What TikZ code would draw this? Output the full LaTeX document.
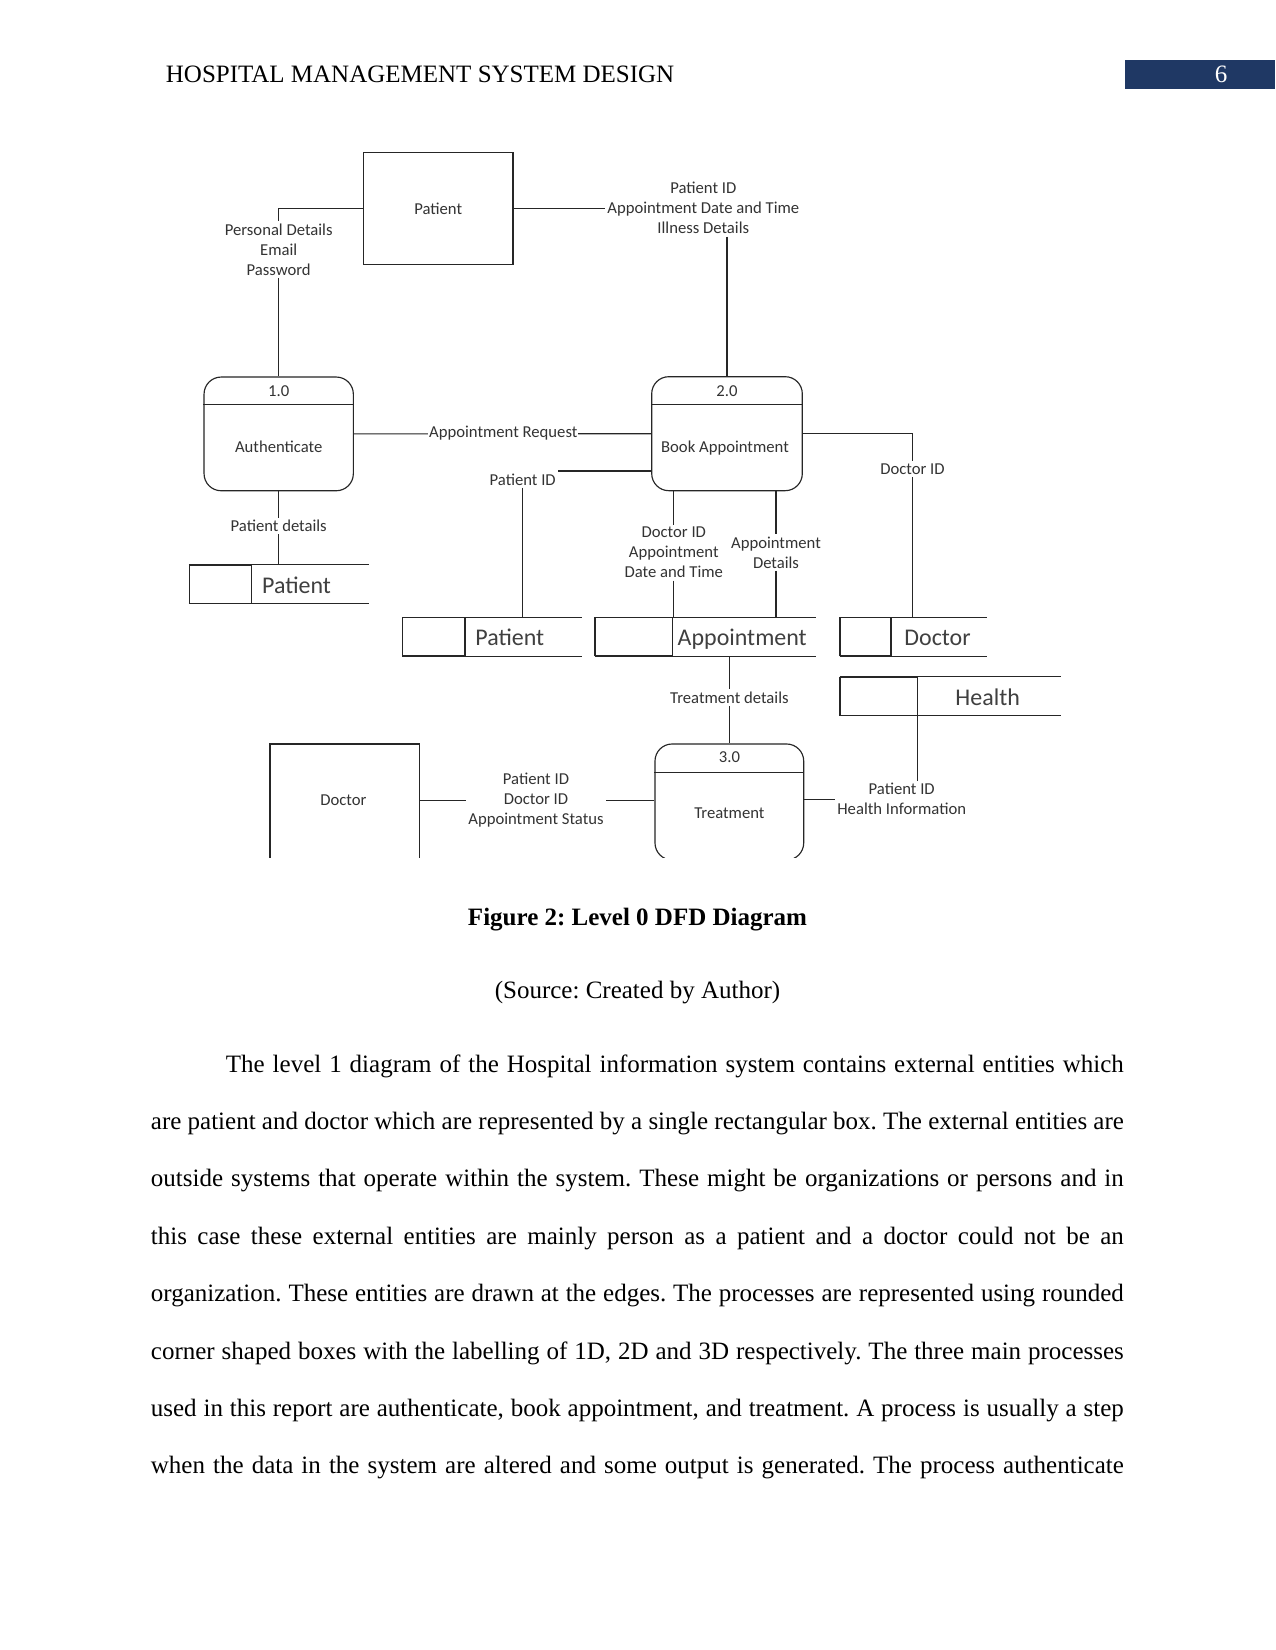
\documentclass[tikz,border=0pt]{standalone}
\usepackage{fontspec}
\setmainfont{Liberation Serif}
\newfontfamily\dfdfont{Carlito}
\usetikzlibrary{calc}
\newcommand{\pxu}{0.48pt}
\definecolor{navy}{RGB}{31,56,100}
\frenchspacing
\begin{document}
\frenchspacing
\begin{tikzpicture}[x=0.48pt,y=-0.48pt,
  ln/.style={draw=black!85, line width=0.55pt},
  entity/.style={draw=black!85, line width=0.55pt, rectangle, inner sep=0pt,
    font=\dfdfont\fontsize{8}{9.6}\selectfont, text=black!80},
  proc/.style={draw=black!85, line width=0.55pt, rectangle, rounded corners=8.2pt, inner sep=0pt},
  ptxt/.style={font=\dfdfont\fontsize{8}{9.6}\selectfont, text=black!80, inner sep=0pt},
  lbl/.style={font=\dfdfont\fontsize{8}{9.6}\selectfont, text=black!80, align=center, inner sep=1pt, fill=white},
  stxt/.style={font=\dfdfont\fontsize{11.5}{13}\selectfont, text=black!75, inner sep=0pt, anchor=west},
  store/.style={rectangle, inner sep=0pt, draw=none},
  sid/.style={draw=black!85, line width=0.55pt, rectangle, inner sep=0pt},
  bodyline/.style={anchor=base west, inner sep=0pt, font=\fontsize{12}{14}\selectfont},
  headtxt/.style={anchor=base, inner sep=0pt, font=\fontsize{12}{14}\selectfont},
]
\fill[white] (0,0) rectangle (1275,1650);
\useasboundingbox (0,0) rectangle (1275,1650);

% ---------- header ----------
\node[bodyline] (head) at (165.5,83) {HOSPITAL MANAGEMENT SYSTEM DESIGN};
\node[fill=navy, minimum width=150*\pxu, minimum height=29*\pxu, inner sep=0pt] (pgbox) at (1200,74.5) {};
\node[headtxt, text=white] (pgnum) at (1221,83) {6};

% ---------- diagram ----------
\begin{scope}
\clip (0,0) rectangle (1275,857);

% external entities
\node[entity, minimum width=149.7*\pxu, minimum height=111.6*\pxu] (pent) at (438.2,208.5) {Patient};
\node[entity, minimum width=149.3*\pxu, minimum height=130*\pxu] (dent) at (344.6,809) {};
\node[ptxt] (dentt) at (343.3,800) {Doctor};

% processes
\node[proc, minimum width=149.3*\pxu, minimum height=113.7*\pxu] (p1) at (278.7,433.9) {};
\node[proc, minimum width=150.6*\pxu, minimum height=114*\pxu] (p2) at (727,433.7) {};
\node[proc, minimum width=148.7*\pxu, minimum height=116*\pxu] (p3) at (729.35,802) {};
\draw[ln] ($(p1.north west)+(0,28.3)$) -- ($(p1.north east)+(0,28.3)$);
\draw[ln] ($(p2.north west)+(0,28.3)$) -- ($(p2.north east)+(0,28.3)$);
\draw[ln] ($(p3.north west)+(0,29.3)$) -- ($(p3.north east)+(0,29.3)$);
\node[ptxt] (p1num) at (278.7,390.7) {1.0};
\node[ptxt] (p1name) at (278.7,446.7) {Authenticate};
\node[ptxt] (p2num) at (727,390.7) {2.0};
\node[ptxt] (p2name) at (725,448) {Book Appointment};
\node[ptxt] (p3num) at (729.4,757.3) {3.0};
\node[ptxt] (p3name) at (729.4,813.3) {Treatment};

% data stores
\node[store, minimum width=179*\pxu, minimum height=38.3*\pxu] (s1) at (278.8,584.15) {};
\node[sid, minimum width=62*\pxu, minimum height=38.3*\pxu] (s1id) at (220.3,584.15) {};
\node[store, minimum width=179*\pxu, minimum height=38*\pxu] (s2) at (492.2,636.7) {};
\node[sid, minimum width=62.3*\pxu, minimum height=38*\pxu] (s2id) at (433.85,636.7) {};
\node[store, minimum width=221*\pxu, minimum height=38*\pxu] (s3) at (705.5,636.7) {};
\node[sid, minimum width=77.3*\pxu, minimum height=38*\pxu] (s3id) at (633.65,636.7) {};
\node[store, minimum width=146.7*\pxu, minimum height=38*\pxu] (s4) at (913.35,636.7) {};
\node[sid, minimum width=51*\pxu, minimum height=38*\pxu] (s4id) at (865.5,636.7) {};
\node[store, minimum width=220.7*\pxu, minimum height=38*\pxu] (s5) at (950.35,696.3) {};
\node[sid, minimum width=77.3*\pxu, minimum height=38*\pxu] (s5id) at (878.65,696.3) {};
\foreach \s in {s1,s2,s3,s4,s5}{
  \draw[ln] (\s.north west) -- (\s.north east) (\s.south west) -- (\s.south east);
}
\node[stxt] (s1t) at (261.7,585) {Patient};
\node[stxt] (s2t) at (475,637.5) {Patient};
\node[stxt] (s3t) at (677.3,639.5) {Appointment};
\node[stxt] (s4t) at (904,637.5) {Doctor};
\node[stxt] (s5t) at (955,697.5) {Health};

% flows
\draw[ln] (p1) -- (p2);

% flow labels
\node[lbl] (pdl) at (278.7,249.7) {Personal Details\\Email\\Password};
\node[lbl] (lpat) at (703.3,208.3) {Patient ID\\Appointment Date and Time\\Illness Details};
\node[lbl, inner sep=0.5pt] (lar) at (503.3,433) {Appointment Request};
\node[lbl] (pid) at (522.7,479.3) {Patient ID};
\node[lbl] (did) at (912.5,469) {Doctor ID};
\node[lbl] (lda) at (673.8,552.7) {Doctor ID\\Appointment\\Date and Time};
\node[lbl] (lad) at (776,552.7) {Appointment\\Details};
\node[lbl] (lpc) at (278.7,526) {Patient details};
\node[lbl] (ltd) at (729.4,697.7) {Treatment details};
\node[lbl] (lpd) at (536,800.3) {Patient ID\\Doctor ID\\Appointment Status};
\node[lbl] (lph) at (901.7,799.2) {Patient ID\\Health Information};

\draw[ln] (pent.west) -| (pdl.north);
\draw[ln] (pdl.south) -- (pdl.south |- p1.north);
\draw[ln] (pent.east) -- (pent.east -| lpat.west);
\draw[ln] (lpat.south -| p2.north) -- (p2.north);
\coordinate (c3) at ($(p2.west)+(0,37.3)$);
\draw[ln] (c3) -- (c3 -| pid.east);
\draw[ln] (pid.south) -- (pid.south |- s2.north);
\draw[ln] (p2.east) -| (did.north);
\draw[ln] (did.south) -- (did.south |- s4.north);
\draw[ln] (lda.north |- p2.south) -- (lda.north);
\draw[ln] (lda.south) -- (lda.south |- s3.north);
\draw[ln] (lad.north |- p2.south) -- (lad.north);
\draw[ln] (lad.south) -- (lad.south |- s3.north);
\draw[ln] (p1.south) -- (lpc.north);
\draw[ln] (lpc.south) -- (lpc.south |- s1.north);
\draw[ln] (ltd.north |- s3.south) -- (ltd.north);
\draw[ln] (ltd.south) -- (ltd.south |- p3.north);
\draw[ln] (dent.east |- lpd.west) -- (lpd.west);
\draw[ln] (lpd.east) -- (lpd.east -| p3.west);
\draw[ln] (lph.west -| p3.east) -- (lph.west);
\draw[ln] (s5id.south east) -- (s5id.south east |- lph.north);
\end{scope}

% ---------- caption ----------
\node[headtxt, font=\bfseries\fontsize{12}{14}\selectfont] (cap) at (637.5,925) {Figure 2: Level 0 DFD Diagram};
\node[headtxt] (src) at (637.5,998) {(Source: Created by Author)};

% ---------- body ----------
\node[bodyline] (b1) at (225.5,1072) {\makebox[431pt][s]{The level 1 diagram of the Hospital information system contains external entities which}};
\node[bodyline] (b2) at (150.5,1129.4) {\makebox[467pt][s]{are patient and doctor which are represented by a single rectangular box. The external entities are}};
\node[bodyline] (b3) at (150.5,1186.8) {\makebox[467pt][s]{outside systems that operate within the system. These might be organizations or persons and in}};
\node[bodyline] (b4) at (150.5,1244.2) {\makebox[467pt][s]{this case these external entities are mainly person as a patient and a doctor could not be an}};
\node[bodyline] (b5) at (150.5,1301.6) {\makebox[467pt][s]{organization. These entities are drawn at the edges. The processes are represented using rounded}};
\node[bodyline] (b6) at (150.5,1359) {\makebox[467pt][s]{corner shaped boxes with the labelling of 1D, 2D and 3D respectively. The three main processes}};
\node[bodyline] (b7) at (150.5,1416.4) {\makebox[467pt][s]{used in this report are authenticate, book appointment, and treatment. A process is usually a step}};
\node[bodyline] (b8) at (150.5,1473.8) {\makebox[467pt][s]{when the data in the system are altered and some output is generated. The process authenticate}};
\end{tikzpicture}
\end{document}
